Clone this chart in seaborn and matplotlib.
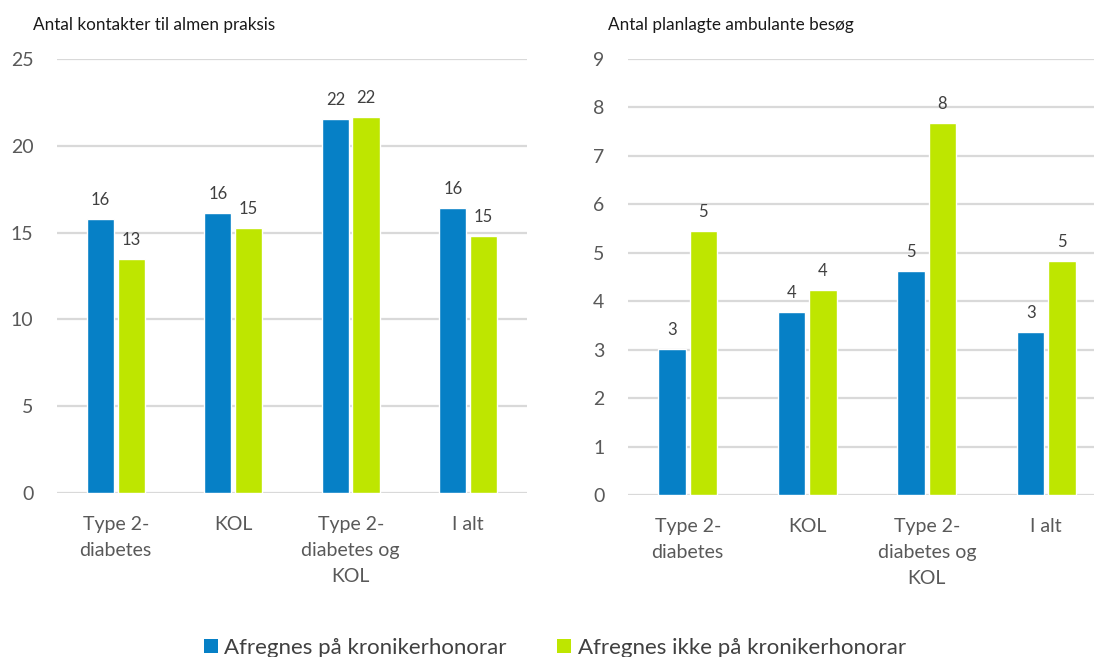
import matplotlib
matplotlib.use("Agg")
import matplotlib.pyplot as plt
import seaborn as sns
import pandas as pd
from matplotlib.patches import Patch

# Categories and groups
categories = ["Type 2-\ndiabetes", "KOL", "Type 2-\ndiabetes og\nKOL", "I alt"]
groups = ["Afregnes på kronikerhonorar", "Afregnes ikke på kronikerhonorar"]

# Antal kontakter til almen praksis
kontakter_med = [15.78, 16.13, 21.52, 16.40]
kontakter_uden = [13.48, 15.26, 21.66, 14.80]

# Antal planlagte ambulante besøg
besoeg_med = [3.02, 3.77, 4.63, 3.37]
besoeg_uden = [5.45, 4.23, 7.68, 4.83]

titles = ["Antal kontakter til almen praksis", "Antal planlagte ambulante besøg"]
yticks_left = [0, 5, 10, 15, 20, 25]
yticks_right = list(range(0, 10))

BLUE = "#0680C6"
GREEN = "#BEE600"
GRID = "#D9D9D9"
TEXT = "#595959"

sns.set_theme(style="white")
plt.rcParams["font.family"] = ["Lato", "DejaVu Sans"]


def long_frame(med, uden):
    rows = []
    for cat, a, b in zip(categories, med, uden):
        rows.append({"kategori": cat, "gruppe": groups[0], "værdi": a})
        rows.append({"kategori": cat, "gruppe": groups[1], "værdi": b})
    return pd.DataFrame(rows)


fig = plt.figure(figsize=(10.94, 6.57), dpi=100)
ax1 = fig.add_axes([0.0521, 0.2496, 0.4296, 0.6606])
ax2 = fig.add_axes([0.574, 0.2466, 0.437, 0.6636])

panels = [
    (ax1, long_frame(kontakter_med, kontakter_uden), yticks_left, titles[0], 33),
    (ax2, long_frame(besoeg_med, besoeg_uden), yticks_right, titles[1], 608),
]

for ax, df, yt, title, title_x in panels:
    sns.barplot(data=df, x="kategori", y="værdi", hue="gruppe",
                palette=[BLUE, GREEN], width=0.52, gap=0.115,
                saturation=1, legend=False, ax=ax, zorder=3)
    ax.set_xlim(-0.5, 3.5)
    ax.set_ylim(0, yt[-1])
    ax.set_yticks(yt)
    ax.set_xlabel("")
    ax.set_ylabel("")
    ax.grid(axis="y", color=GRID, linewidth=1.6, zorder=0)
    ax.set_axisbelow(True)
    for s in ax.spines.values():
        s.set_visible(False)
    ax.tick_params(axis="y", length=0, pad=17, labelsize=14, labelcolor=TEXT)
    ax.tick_params(axis="x", length=0, pad=16.5, labelsize=14, labelcolor=TEXT)
    for cont in ax.containers:
        ax.bar_label(cont, fmt="%.0f", padding=8, fontsize=12, color="#404040")
    fig.text(title_x / 1094, 1 - 25 / 657, title, fontsize=12.3,
             color="#1a1a1a", va="center", ha="left")

handles = [Patch(facecolor=BLUE, edgecolor="none"),
           Patch(facecolor=GREEN, edgecolor="none")]
fig.legend(handles, groups, loc="center", bbox_to_anchor=(0.507, 0.014),
           ncol=2, frameon=False, fontsize=16, handlelength=0.63,
           handleheight=0.63, handletextpad=0.28, columnspacing=2.3,
           labelcolor="#404040")

# Multi-line category labels need more room between lines
fig.canvas.draw()
for ax in (ax1, ax2):
    for lbl in ax.get_xticklabels():
        lbl.set_linespacing(1.65)
        lbl.set_verticalalignment("top")

fig.savefig("out.png", dpi=100)
